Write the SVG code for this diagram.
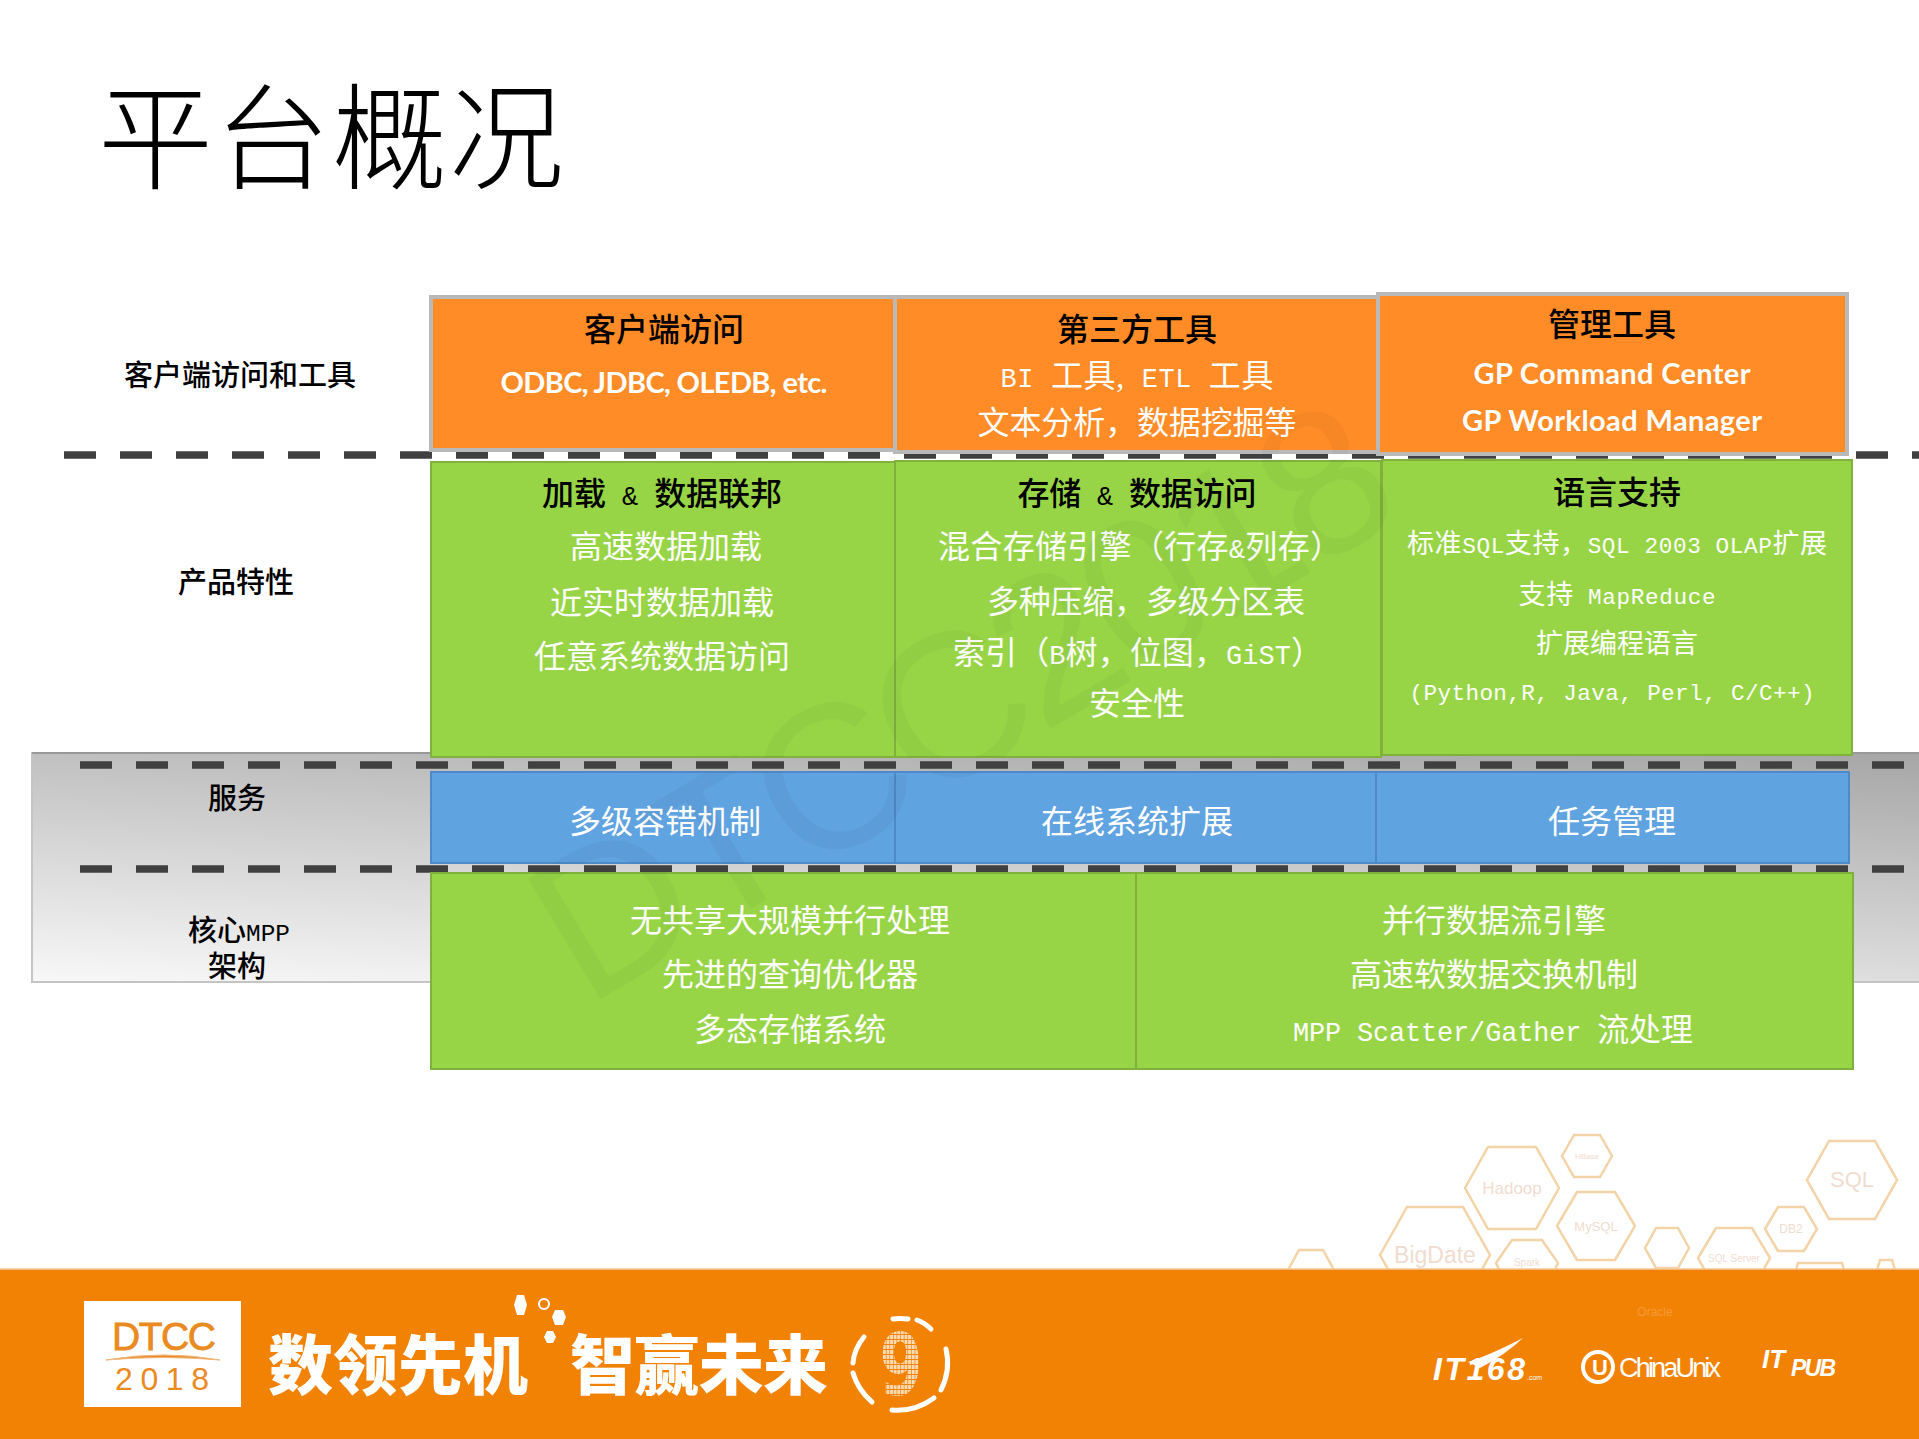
<svg xmlns="http://www.w3.org/2000/svg" width="1919" height="1439" viewBox="0 0 1919 1439">
<defs>
<style>
text{font-family:"Liberation Serif","Noto Sans CJK SC",serif;text-anchor:middle}
.k{fill:#000;font-size:32px;font-weight:500}
.w{fill:#fff;font-size:32px}
.l{fill:#000;font-size:29px;font-weight:500}
.b{fill:#fff;font-size:29px;font-weight:700;font-family:Lato,"Noto Sans CJK SC",sans-serif}
.s{fill:#fff;font-size:27px}
.m{font-family:"Liberation Mono",monospace;font-size:.84em}
.o{fill:#ff8c26;stroke:#b9b9b9;stroke-width:4}
.g{fill:#97d546;stroke:#7fb13c;stroke-width:2}
.u{fill:#5fa3e1;stroke:#4d8bc8;stroke-width:2}
.d{stroke:#404040;stroke-width:7.5;stroke-dasharray:32 24;fill:none}
.h{fill:#fff;stroke:#f3d3a8;stroke-width:2.5}
.ht{fill:#f1dcd0;font-family:"Liberation Sans",sans-serif}
.c{fill:#fff;font-family:"Noto Sans CJK SC",sans-serif;font-weight:900;font-size:65px}
.ring{fill:none;stroke:#fff;stroke-width:5;stroke-linecap:round}
.lg{fill:#fff;font-family:"Liberation Sans",sans-serif;text-anchor:start}
</style>
<linearGradient id="band" gradientUnits="userSpaceOnUse" x1="1919" y1="752" x2="1900" y2="1089">
<stop offset="0" stop-color="#a6a6a6"/><stop offset="1" stop-color="#f8f8f8"/>
</linearGradient>
<pattern id="grid" patternUnits="userSpaceOnUse" width="5" height="5">
<rect width="5" height="5" fill="#f18204"/><rect width="4" height="4" fill="#fbdcb4"/>
</pattern>
<clipPath id="wm">
<rect x="431" y="295" width="1417" height="159"/><rect x="431" y="459" width="1421" height="298"/><rect x="431" y="772" width="1419" height="92"/><rect x="431" y="872" width="1423" height="198"/>
</clipPath>
<clipPath id="hexclip"><rect x="1250" y="1120" width="669" height="150"/></clipPath>
</defs>
<rect width="1919" height="1439" fill="#fff"/>

<g id="title"><text x="331" y="180" font-size="115" font-weight="300" textLength="466" style="font-family:'Noto Sans CJK SC',sans-serif">平台概况</text></g>

<g id="band-bg"><rect x="32" y="753" width="1888" height="229" fill="url(#band)" stroke="#c4c4c4" stroke-width="2"/><path d="M32 753H1919" stroke="#999" stroke-width="2"/></g>

<g id="connectors">
<path class="d" d="M64 455H1919"/>
<path class="d" d="M80 765H1904"/>
<path class="d" d="M80 869H1904"/>
</g>

<g id="client-label"><text class="l" x="240" y="386">客户端访问和工具</text></g>
<g id="product-label"><text class="l" x="236" y="593">产品特性</text></g>
<g id="service-label"><text class="l" x="237" y="809">服务</text></g>
<g id="core-label"><text class="l" x="239" y="941">核心<tspan class="m">MPP</tspan></text><text class="l" x="237" y="977">架构</text></g>

<g id="client-access"><rect class="o" x="431" y="297" width="464" height="153"/>
<text class="k" x="664" y="341">客户端访问</text><text class="b" x="664" y="393" textLength="327">ODBC, JDBC, OLEDB, etc.</text></g>
<g id="third-party"><rect class="o" x="895" y="297" width="483" height="155"/>
<text class="k" x="1137" y="341">第三方工具</text><text class="w" x="1137" y="387" textLength="273"><tspan class="m">BI </tspan>工具,<tspan class="m"> ETL </tspan>工具</text><text class="w" x="1137" y="434" textLength="319">文本分析，数据挖掘等</text></g>
<g id="management"><rect class="o" x="1378" y="294" width="469" height="160"/>
<text class="k" x="1612" y="336">管理工具</text><text class="b" x="1612" y="384" textLength="277">GP Command Center</text><text class="b" x="1612" y="431" textLength="300">GP Workload Manager</text></g>

<g id="load"><rect class="g" x="431" y="462" width="464" height="295"/>
<text class="k" x="662" y="505" textLength="240">加载<tspan class="m"> &amp; </tspan>数据联邦</text><text class="w" x="666" y="558">高速数据加载</text><text class="w" x="662" y="614">近实时数据加载</text><text class="w" x="662" y="668">任意系统数据访问</text></g>
<g id="storage"><rect class="g" x="895" y="461" width="486" height="296"/>
<text class="k" x="1137" y="505" textLength="239">存储<tspan class="m"> &amp; </tspan>数据访问</text><text class="w" x="1140" y="558" textLength="404">混合存储引擎（行存<tspan class="m">&amp;</tspan>列存）</text><text class="w" x="1146" y="613" textLength="318">多种压缩，多级分区表</text><text class="w" x="1138" y="664" textLength="370">索引（<tspan class="m">B</tspan>树，位图，<tspan class="m">GiST</tspan>）</text><text class="w" x="1137" y="715">安全性</text></g>
<g id="language"><rect class="g" x="1382" y="460" width="470" height="295"/>
<text class="k" x="1617" y="504">语言支持</text><text class="s" x="1617" y="553" textLength="420">标准<tspan class="m">SQL</tspan>支持，<tspan class="m">SQL 2003 OLAP</tspan>扩展</text><text class="s" x="1617" y="604" textLength="197">支持<tspan class="m"> MapReduce</tspan></text><text class="s" x="1617" y="653">扩展编程语言</text><text class="s" x="1612" y="700" textLength="405"><tspan class="m">(Python,R, Java, Perl, C/C++)</tspan></text></g>

<g id="fault-tolerance"><rect class="u" x="431" y="772" width="464" height="91"/><text class="w" x="665" y="833">多级容错机制</text></g>
<g id="online-expansion"><rect class="u" x="895" y="772" width="481" height="91"/><text class="w" x="1137" y="833">在线系统扩展</text></g>
<g id="task-management"><rect class="u" x="1376" y="772" width="473" height="91"/><text class="w" x="1612" y="833">任务管理</text></g>

<g id="mpp"><rect class="g" x="431" y="873" width="705" height="196"/>
<text class="w" x="790" y="932">无共享大规模并行处理</text><text class="w" x="790" y="986">先进的查询优化器</text><text class="w" x="790" y="1041">多态存储系统</text></g>
<g id="dataflow"><rect class="g" x="1136" y="873" width="717" height="196"/>
<text class="w" x="1494" y="932">并行数据流引擎</text><text class="w" x="1494" y="986">高速软数据交换机制</text><text class="w" x="1493" y="1041" textLength="400"><tspan class="m">MPP Scatter/Gather </tspan>流处理</text></g>

<g id="watermark" clip-path="url(#wm)"><text transform="translate(586,1008) rotate(-31)" x="0" y="0" font-size="205" textLength="960" style="text-anchor:start;font-family:'Liberation Sans',sans-serif;fill:#000;fill-opacity:.03">DTCC2018</text></g>

<g id="hexagons" clip-path="url(#hexclip)">
<path class="h" d="M1465 1188L1488 1147H1536L1559 1188L1536 1229H1488Z"/><text class="ht" x="1512" y="1194" font-size="17">Hadoop</text>
<path class="h" d="M1562 1156L1574 1135H1600L1612 1156L1600 1177H1574Z"/><text class="ht" x="1587" y="1159" font-size="8">HBase</text>
<path class="h" d="M1807 1180L1829 1141H1875L1897 1180L1875 1219H1829Z"/><text class="ht" x="1852" y="1187" font-size="22">SQL</text>
<path class="h" d="M1557 1226L1577 1192H1615L1635 1226L1615 1260H1577Z"/><text class="ht" x="1596" y="1231" font-size="13">MySQL</text>
<path class="h" d="M1380 1255L1407 1207H1463L1490 1255L1463 1303H1407Z"/><text class="ht" x="1435" y="1263" font-size="23">BigDate</text>
<path class="h" d="M1496 1263L1512 1240H1542L1558 1263L1542 1295H1512Z"/><text class="ht" x="1527" y="1266" font-size="10">Spark</text>
<path class="h" d="M1645 1248L1656 1228H1678L1689 1248L1678 1268H1656Z"/>
<path class="h" d="M1698 1258L1716 1228H1752L1770 1258L1752 1290H1716Z"/><text class="ht" x="1734" y="1262" font-size="10">SQL Server</text>
<path class="h" d="M1765 1229L1778 1207H1804L1817 1229L1804 1251H1778Z"/><text class="ht" x="1791" y="1233" font-size="12">DB2</text>
<path class="h" d="M1288 1270L1299 1250H1323L1334 1270L1323 1290H1299Z"/>
<path class="h" d="M1790 1290L1798 1263H1842L1850 1290Z"/>
<path class="h" d="M1874 1280L1880 1260H1892L1898 1280Z"/>
</g>

<g id="footer"><rect x="0" y="1269" width="1919" height="170" fill="#f18204"/><path d="M0 1269H1919" stroke="#f7c99a" stroke-width="1.5"/></g>

<g id="dtcc-logo"><rect x="84" y="1301" width="157" height="106" fill="#fff"/>
<text x="164" y="1350" font-size="39" textLength="104" style="font-family:'Liberation Sans',sans-serif;fill:#ea8a22;stroke:#ea8a22;stroke-width:.8">DTCC</text>
<path d="M106 1360Q164 1350 220 1360Q164 1355 106 1360Z" fill="#ea8a22" stroke="#f0b67a"/>
<text x="162" y="1390" font-size="32" textLength="94" style="font-family:'Liberation Sans',sans-serif;fill:#ea8a22">2018</text></g>

<g id="slogan">
<text class="c" x="398" y="1389" textLength="260">数领先机</text>
<text class="c" x="699" y="1389" textLength="258">智赢未来</text>
<path d="M514 1305L517 1295H524L527 1305L524 1315H517Z" fill="#fff"/>
<circle cx="544" cy="1304" r="5" fill="none" stroke="#fff" stroke-width="2"/>
<path d="M552 1317L555 1310H563L566 1317L563 1325H555Z" fill="#fff"/>
<path d="M544 1337L547 1331H553L556 1337L553 1343H547Z" fill="#fff"/>
</g>

<g id="nine">
<path class="ring" d="M893 1319Q900 1318 908 1319M917 1320Q925 1323 931 1329M946 1349Q951 1370 941 1390M934 1398Q915 1412 892 1410M872 1402Q858 1390 853 1373M853 1363Q854 1349 864 1337"/>
<text transform="translate(901,1395) scale(.72,1)" font-size="86" font-weight="700" style="font-family:'DejaVu Sans',sans-serif;fill:url(#grid)">9</text>
</g>

<g id="partner-logos">
<text class="lg" x="1433" y="1380" font-size="32" font-weight="700" font-style="italic" textLength="92">IT168</text>
<text class="lg" x="1527" y="1380" font-size="7">.com</text>
<path d="M1468 1362Q1490 1355 1523 1338Q1505 1355 1480 1368Z" fill="#fff"/>
<circle cx="1598" cy="1367" r="15" fill="none" stroke="#fff" stroke-width="4"/>
<text class="lg" x="1592" y="1375" font-size="22" font-weight="700">U</text>
<text class="lg" x="1619" y="1377" font-size="27" textLength="102">ChinaUnix</text>
<text class="lg" x="1762" y="1368" font-size="26" font-weight="700" font-style="italic">IT</text>
<text class="lg" x="1791" y="1376" font-size="23" font-weight="700" font-style="italic" textLength="45">PUB</text>
<text class="lg" x="1655" y="1316" font-size="12" style="fill:#f59a36;text-anchor:middle">Oracle</text>
</g>
</svg>
